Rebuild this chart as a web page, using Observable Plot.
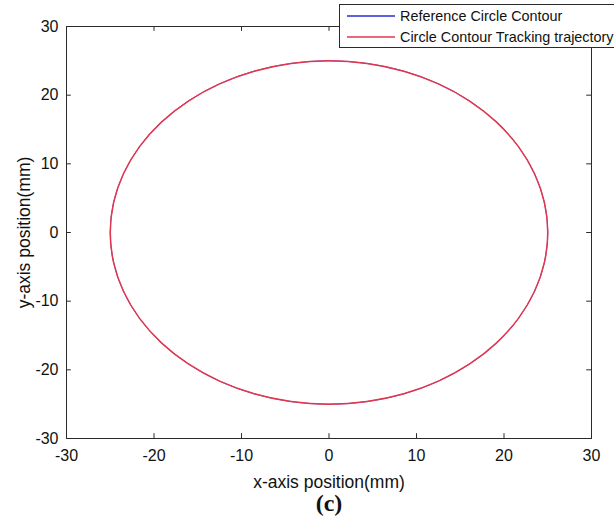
<!DOCTYPE html>
<html>
<head>
<meta charset="utf-8">
<script src="https://cdn.jsdelivr.net/npm/d3@7"></script>
<script src="https://cdn.jsdelivr.net/npm/@observablehq/plot@0.6"></script>
<style>
  html, body { margin: 0; padding: 0; background: #fff; }
  #chart svg { display: block; }
</style>
</head>
<body>
<div id="chart"></div>
<script>
const xTicks = [-30, -20, -10, 0, 10, 20, 30];
const yTicks = [-30, -20, -10, 0, 10, 20, 30];
const xLabel = "x-axis position(mm)";
const yLabel = "y-axis position(mm)";
const caption = "(c)";
const seriesNames = ["Reference Circle Contour", "Circle Contour Tracking trajectory"];
const seriesColors = ["#2b2bd9", "#e2364c"];

const refX = [25, 24.62, 23.49, 21.65, 19.15, 16.07, 12.5, 8.55, 4.34, 0, -4.34, -8.55, -12.5, -16.07, -19.15, -21.65, -23.49, -24.62, -25, -24.62, -23.49, -21.65, -19.15, -16.07, -12.5, -8.55, -4.34, 0, 4.34, 8.55, 12.5, 16.07, 19.15, 21.65, 23.49, 24.62];
const refY = [0, 4.34, 8.55, 12.5, 16.07, 19.15, 21.65, 23.49, 24.62, 25, 24.62, 23.49, 21.65, 19.15, 16.07, 12.5, 8.55, 4.34, 0, -4.34, -8.55, -12.5, -16.07, -19.15, -21.65, -23.49, -24.62, -25, -24.62, -23.49, -21.65, -19.15, -16.07, -12.5, -8.55, -4.34];
const trkX = [25, 24.62, 23.49, 21.65, 19.15, 16.07, 12.5, 8.55, 4.34, 0, -4.34, -8.55, -12.5, -16.07, -19.15, -21.65, -23.49, -24.62, -25, -24.62, -23.49, -21.65, -19.15, -16.07, -12.5, -8.55, -4.34, 0, 4.34, 8.55, 12.5, 16.07, 19.15, 21.65, 23.49, 24.62];
const trkY = [0, 4.34, 8.55, 12.5, 16.07, 19.15, 21.65, 23.49, 24.62, 25, 24.62, 23.49, 21.65, 19.15, 16.07, 12.5, 8.55, 4.34, 0, -4.34, -8.55, -12.5, -16.07, -19.15, -21.65, -23.49, -24.62, -25, -24.62, -23.49, -21.65, -19.15, -16.07, -12.5, -8.55, -4.34];

const ref = refX.map((x, i) => ({x, y: refY[i]}));
const trk = trkX.map((x, i) => ({x, y: trkY[i]}));

const font = "'Liberation Sans', Arial, Helvetica, sans-serif";
const axisColor = "#2a2a2a";

const plot = Plot.plot({
  width: 614,
  height: 530,
  marginLeft: 66,
  marginRight: 23,
  marginTop: 26,
  marginBottom: 92,
  style: {fontFamily: font, background: "#fff", color: "#111"},
  x: {domain: [-30, 30], label: null},
  y: {domain: [-30, 30], label: null},
  marks: [
    Plot.axisX({ticks: xTicks, tickSize: 0, tickPadding: 11, fontSize: 16, label: null, tickFormat: d => String(d)}),
    Plot.axisY({ticks: yTicks, tickSize: 0, tickPadding: 8, fontSize: 16, label: null, tickFormat: d => String(d)}),
    // inward ticks (MATLAB style, box on)
    Plot.ruleX(xTicks, {y1: -30, y2: -29.3, stroke: axisColor, strokeWidth: 1}),
    Plot.ruleX(xTicks, {y1: 30, y2: 29.3, stroke: axisColor, strokeWidth: 1}),
    Plot.ruleY(yTicks, {x1: -30, x2: -29.45, stroke: axisColor, strokeWidth: 1}),
    Plot.ruleY(yTicks, {x1: 30, x2: 29.45, stroke: axisColor, strokeWidth: 1}),
    Plot.frame({stroke: axisColor, strokeWidth: 1}),
    Plot.line(ref, {x: "x", y: "y", stroke: seriesColors[0], strokeWidth: 0.8, curve: "catmull-rom-closed"}),
    Plot.line(trk, {x: "x", y: "y", stroke: seriesColors[1], strokeWidth: 1.5, curve: "catmull-rom-closed"}),
    Plot.text([xLabel], {text: d => d, frameAnchor: "bottom", textAnchor: "middle", dy: 44, fontSize: 17.5, fill: "#111", lineAnchor: "middle"}),
    Plot.text([caption], {text: d => d, frameAnchor: "bottom", textAnchor: "middle", dy: 65, fontSize: 24, fontWeight: "bold", fontFamily: "'Liberation Serif', 'Times New Roman', serif", fill: "#111", lineAnchor: "middle"}),
    Plot.text([yLabel], {text: d => d, frameAnchor: "left", textAnchor: "middle", dx: -42, rotate: -90, fontSize: 17.5, fill: "#111", lineAnchor: "middle"})
  ]
});

document.getElementById("chart").appendChild(plot);

// Legend drawn over the top-right corner
const svg = d3.select(plot);
const lg = svg.append("g").attr("font-family", font).attr("font-size", 14.4).attr("text-anchor", "start");
lg.append("rect").attr("x", 339.5).attr("y", 4.5).attr("width", 300).attr("height", 43)
  .attr("fill", "#fff").attr("stroke", axisColor).attr("stroke-width", 1);
seriesNames.forEach((name, i) => {
  const yy = 16 + i * 21;
  lg.append("line").attr("x1", 347).attr("x2", 395).attr("y1", yy).attr("y2", yy)
    .attr("stroke", seriesColors[i]).attr("stroke-width", 1.3);
  lg.append("text").attr("x", 400).attr("y", yy).attr("dy", "0.35em").attr("fill", "#111").text(name);
});
</script>
</body>
</html>
